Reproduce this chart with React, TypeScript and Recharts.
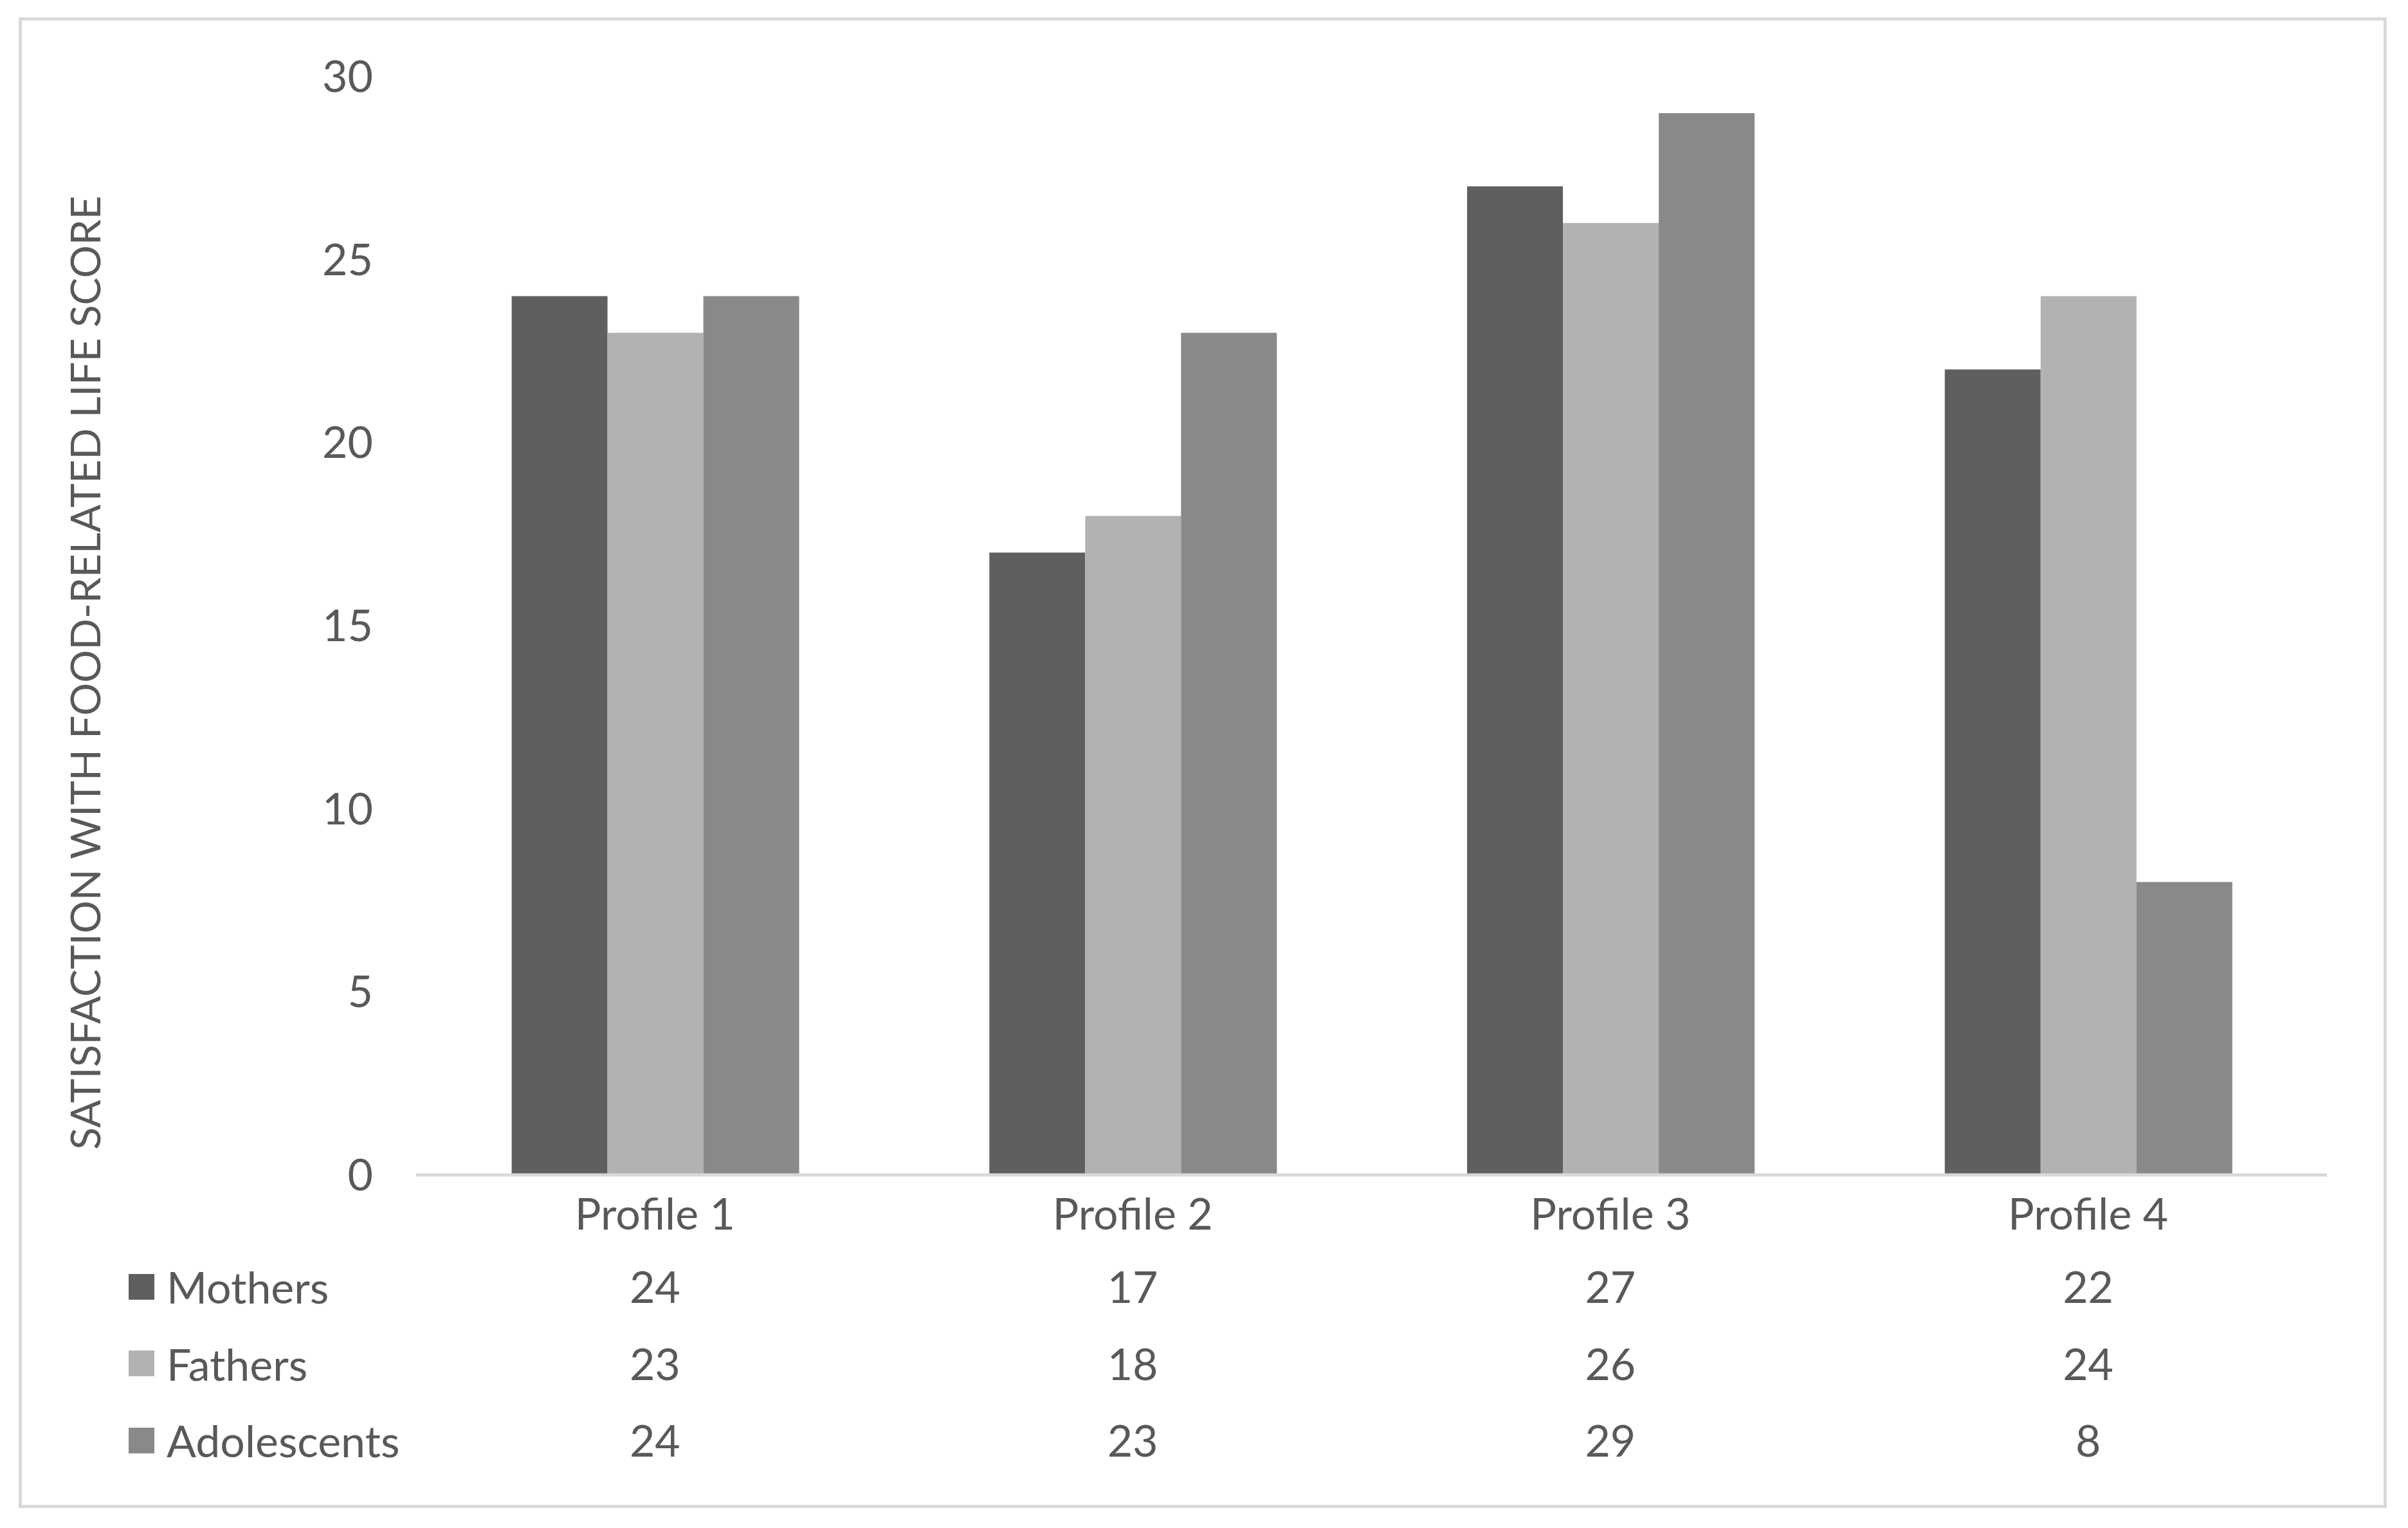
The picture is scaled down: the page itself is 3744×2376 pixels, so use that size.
import { BarChart, Bar, XAxis, YAxis, Legend } from 'recharts'

const profiles = ['Profile 1', 'Profile 2', 'Profile 3', 'Profile 4']
const mothers = [24, 17, 27, 22]
const fathers = [23, 18, 26, 24]
const adolescents = [24, 23, 29, 8]
const yTicks = [0, 5, 10, 15, 20, 25, 30]

const seriesNames = ['Mothers', 'Fathers', 'Adolescents']
const seriesColors = ['#5f5f5f', '#b2b2b2', '#898989']
const seriesValues = [mothers, fathers, adolescents]

const data = profiles.map((name, i) => ({
  name,
  mothers: mothers[i],
  fathers: fathers[i],
  adolescents: adolescents[i],
}))

const FONT = 'Lato, "Noto Sans", sans-serif'
const TEXT = '#595959'

// category label plus the three table values below it
function TableTick(props: any) {
  const { x, y, payload } = props
  const i = payload.index
  return (
    <g fontFamily={FONT} fontSize={68} fill={TEXT} textAnchor="middle">
      <text x={x} y={y + 85}>{payload.value}</text>
      {seriesValues.map((vals, k) => (
        <text key={k} x={x} y={y + 199 + k * 119.5}>
          {vals[i]}
        </text>
      ))}
    </g>
  )
}

function TableLegend(props: any) {
  const items = [...(props.payload || [])].sort(
    (a: any, b: any) => seriesNames.indexOf(a.value) - seriesNames.indexOf(b.value)
  )
  return (
    <div style={{ fontFamily: FONT, fontSize: 68, color: TEXT }}>
      {items.map((entry: any) => (
        <div key={entry.value} style={{ display: 'flex', alignItems: 'center', height: 119.5 }}>
          <span style={{ width: 40, height: 40, background: entry.color, marginRight: 19 }} />
          <span>{entry.value}</span>
        </div>
      ))}
    </div>
  )
}

function YTitle(props: any) {
  const { viewBox } = props
  const cx = 131
  const cy = viewBox.y + viewBox.height / 2 + 73
  return (
    <text
      x={cx}
      y={cy}
      transform={`rotate(-90, ${cx}, ${cy})`}
      textAnchor="middle"
      dominantBaseline="central"
      fontFamily={FONT}
      fontSize={64}
      fill={TEXT}
    >
      SATISFACTION WITH FOOD-RELATED LIFE SCORE
    </text>
  )
}

export default function App() {
  return (
    <div style={{ position: 'absolute', left: 0, top: 0, width: 3744, height: 2376, background: '#fff' }}>
      <div
        style={{
          position: 'absolute',
          left: 29,
          top: 27,
          width: 3682,
          height: 2318,
          border: '5px solid #d9d9d9',
          boxSizing: 'border-box',
        }}
      />
      <BarChart
        width={3744}
        height={2376}
        data={data}
        margin={{ top: 119, right: 126, bottom: 0, left: 0 }}
        barCategoryGap="20%"
        barGap={0}
      >
        <XAxis
          dataKey="name"
          height={549}
          axisLine={{ stroke: '#d9d9d9', strokeWidth: 5 }}
          tickLine={false}
          tickSize={0}
          tickMargin={0}
          tick={<TableTick />}
          interval={0}
        />
        <YAxis
          width={647}
          domain={[0, 30]}
          ticks={yTicks}
          axisLine={false}
          tickLine={false}
          tickSize={0}
          tickMargin={67}
          tick={{ fontFamily: FONT, fontSize: 68, fill: TEXT }}
          label={{ content: <YTitle /> }}
        />
        <Legend
          layout="vertical"
          align="center"
          verticalAlign="middle"
          content={<TableLegend />}
          wrapperStyle={{ left: 200, top: 1941, width: 700, height: 360 }}
        />
        {seriesNames.map((name, k) => (
          <Bar
            key={name}
            dataKey={name.toLowerCase()}
            name={name}
            fill={seriesColors[k]}
            isAnimationActive={false}
          />
        ))}
      </BarChart>
    </div>
  )
}
